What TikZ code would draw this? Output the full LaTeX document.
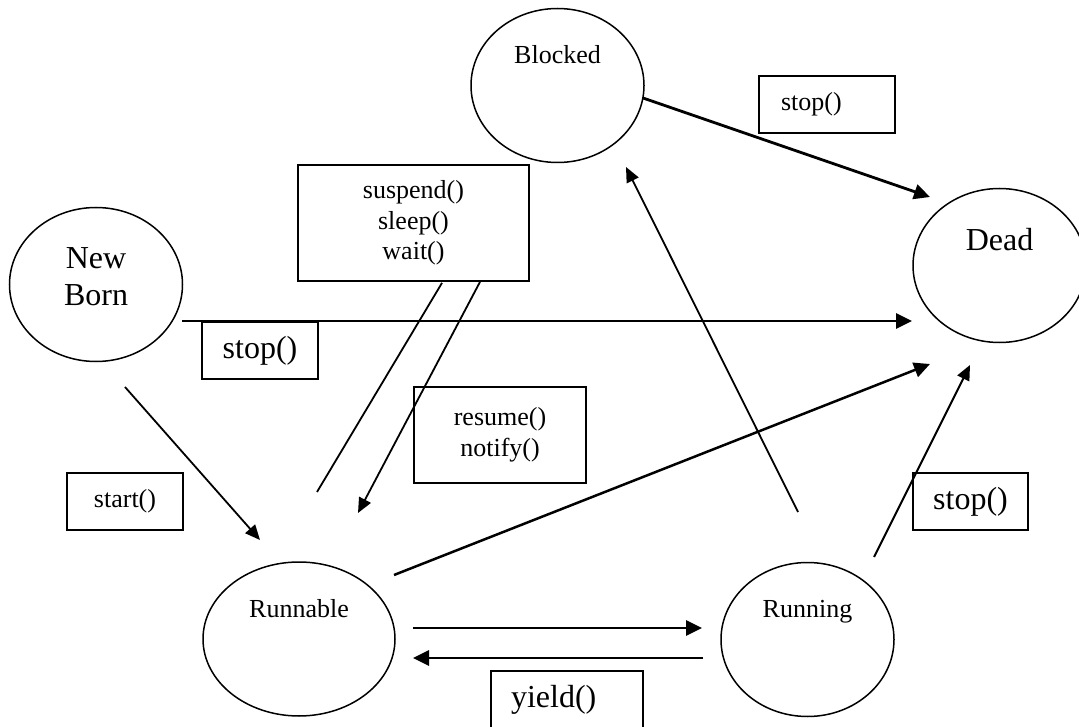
\documentclass[tikz,border=0pt]{standalone}
\usepackage{fontspec}
\setmainfont{Liberation Serif}
\usetikzlibrary{shapes.geometric,arrows.meta,calc}
\begin{document}
\begin{tikzpicture}[x=1pt,y=-1pt]
    \tikzstyle{state}=[ellipse,draw,line width=1.5pt,minimum width=173pt,minimum height=154pt,inner sep=0pt]
    \tikzstyle{lbl}=[anchor=base,inner sep=0pt,font=\fontsize{26}{30}\selectfont]
    \tikzstyle{biglbl}=[lbl,font=\fontsize{32}{37}\selectfont]
    \tikzstyle{box}=[rectangle,draw,line width=1.8pt,inner sep=0pt,align=center,font=\fontsize{26}{30.5}\selectfont]
    \tikzstyle{bigbox}=[box,font=\fontsize{32}{37}\selectfont]
    \tikzstyle{heavy}=[line width=2.8pt,-{Triangle[length=16pt,width=15pt]}]
    \tikzstyle{light}=[line width=1.8pt,-{Triangle[length=15pt,width=13pt]}]
    \useasboundingbox (0,0) rectangle (1079,727);

    % states
    \node[state] (blocked) at (557.5,85.5) {};
    \node[state] (newborn) at (96,284.5) {};
    \node[state] (dead) at (999.5,265.5) {};
    \node[state,minimum width=192pt] (runnable) at (299,639) {};
    \node[state] (running) at (807.5,639.5) {};
    \node[lbl] (blockedtxt) at ($(blocked)+(0,-22)$) {Blocked};
    \node[biglbl,anchor=center,align=center] (newborntxt) at ($(newborn)+(0,-8)$) {New\\Born};
    \node[biglbl] (deadtxt) at ($(dead)+(0,-15)$) {Dead};
    \node[lbl] (runnabletxt) at ($(runnable)+(0,-22)$) {Runnable};
    \node[lbl] (runningtxt) at ($(running)+(0,-22)$) {Running};

    % method boxes
    \node[box,minimum height=57pt,text width=92pt,inner xsep=22pt,align=left] (stopblk) at (827,104.5) {stop()};
    \node[box,minimum width=231pt,minimum height=116pt] (susp) at (413.5,223) {suspend()\\sleep()\\wait()};
    \node[bigbox,minimum width=116pt,minimum height=57pt] (stopnb) at (260,350.5) {stop()};
    \node[box,minimum width=172pt,minimum height=96pt] (resm) at (500,435) {resume()\\notify()};
    \node[box,minimum width=116pt,minimum height=57pt] (strt) at (125,501.5) {start()};
    \node[bigbox,minimum width=115pt,minimum height=57pt] (stopdead) at (970.5,501.5) {stop()};
    \node[bigbox,minimum height=57pt,text width=112pt,inner xsep=20pt,align=left] (yld) at (567,699.5) {yield()};

    % transitions
    \draw[heavy] ($(blocked)+(85.5,12.5)$) -- ($(dead)+(-69.5,-68.5)$);
    \draw[heavy] ($(newborn)+(86,36.5)$) -- ($(dead)+(-87.5,55.5)$);
    \draw[light] ($(running)+(-9.5,-127.5)$) -- ($(blocked)+(68.5,81.5)$);
    \draw[heavy,line width=2.5pt] ($(runnable)+(95,-64)$) -- ($(dead)+(-69.5,98.5)$);
    \draw[light,line width=2pt] ($(running)+(66.5,-82.5)$) -- ($(dead)+(-29.5,99.5)$);
    \draw[light] ($(newborn)+(29,102.5)$) -- ($(runnable)+(-39,-99)$);
    \draw[line width=1.8pt] ($(susp.south)+(28.5,1)$) -- ($(runnable)+(18,-147)$);
    \draw[light] ($(susp.south)+(66.5,0)$) -- ($(runnable)+(59,-126)$);
    \draw[heavy] ($(runnable)+(114,-11)$) -- ($(running)+(-105.5,-11.5)$);
    \draw[heavy] ($(running)+(-104.5,18.5)$) -- ($(runnable)+(114,19)$);
  \end{tikzpicture}
\end{document}
